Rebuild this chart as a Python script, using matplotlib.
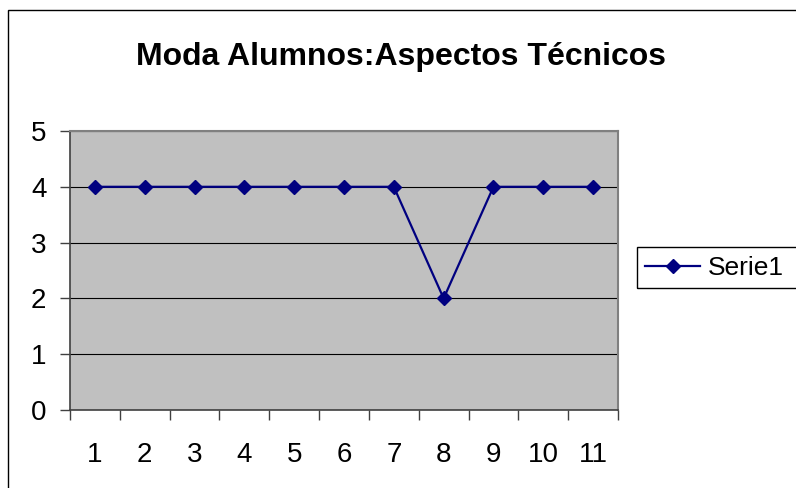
import matplotlib
matplotlib.use('Agg')
import matplotlib.pyplot as plt
import matplotlib.patches as mpatches

categories = ['1', '2', '3', '4', '5', '6', '7', '8', '9', '10', '11']
serie1 = [4, 4, 4, 4, 4, 4, 4, 2, 4, 4, 4]
yticks = [0, 1, 2, 3, 4, 5]

plt.rcParams['font.family'] = ['Liberation Sans', 'DejaVu Sans']

W, H = 796, 488
fig = plt.figure(figsize=(W / 100, H / 100), dpi=100)
fig.patch.set_facecolor('white')


def fx(px):
    return px / W


def fy(py):
    return 1 - py / H


# outer chart border (right and bottom edges fall outside the image)
fig.add_artist(mpatches.Rectangle((fx(8), -0.2), 1.2, fy(10) + 0.2,
                                  transform=fig.transFigure, fill=False,
                                  edgecolor='black', linewidth=1))

ax = fig.add_axes([fx(70), fy(410), fx(548), 279 / H])
ax.set_facecolor('#c0c0c0')

x = list(range(len(categories)))
ax.plot(x, serie1, color='#000080', lw=1.6, marker='D', markersize=7.5,
        markerfacecolor='#000080', markeredgecolor='#000080', label='Serie1',
        clip_on=False, zorder=3)

ax.set_xlim(-0.5, len(categories) - 0.5)
ax.set_ylim(0, 5)
ax.set_yticks(yticks)
ax.grid(axis='y', color='black', lw=0.8)
ax.set_axisbelow(True)

# category ticks at boundaries, labels centered
ax.set_xticks([i - 0.5 for i in range(len(categories) + 1)])
ax.set_xticklabels([])
ax.set_xticks(x, minor=True)
ax.set_xticklabels(categories, minor=True)
ax.tick_params(axis='x', which='major', direction='out', length=7,
               color='#404040', width=1)
ax.tick_params(axis='x', which='minor', length=0, pad=23, labelsize=20)
ax.tick_params(axis='y', direction='out', length=7, color='#404040',
               width=1, labelsize=20, pad=10)

for s in ['left', 'bottom']:
    ax.spines[s].set_color('#404040')
    ax.spines[s].set_linewidth(1.2)
for s in ['top', 'right']:
    ax.spines[s].set_color('#808080')
    ax.spines[s].set_linewidth(1.5)

fig.text(fx(401), fy(57), 'Moda Alumnos:Aspectos Técnicos',
         ha='center', va='center', fontsize=23, fontweight='bold')

# legend frame runs past the right edge of the image
fig.add_artist(mpatches.Rectangle((fx(637), fy(288)), 0.3, 41 / H,
                                  transform=fig.transFigure, fill=False,
                                  edgecolor='black', linewidth=1))
leg = ax.legend(loc='center left', bbox_to_anchor=(fx(645), fy(268)),
                bbox_transform=fig.transFigure, fontsize=19, frameon=False,
                borderpad=0, handlelength=2.1, handletextpad=0.3,
                borderaxespad=0)

fig.savefig('out.png', dpi=100)
